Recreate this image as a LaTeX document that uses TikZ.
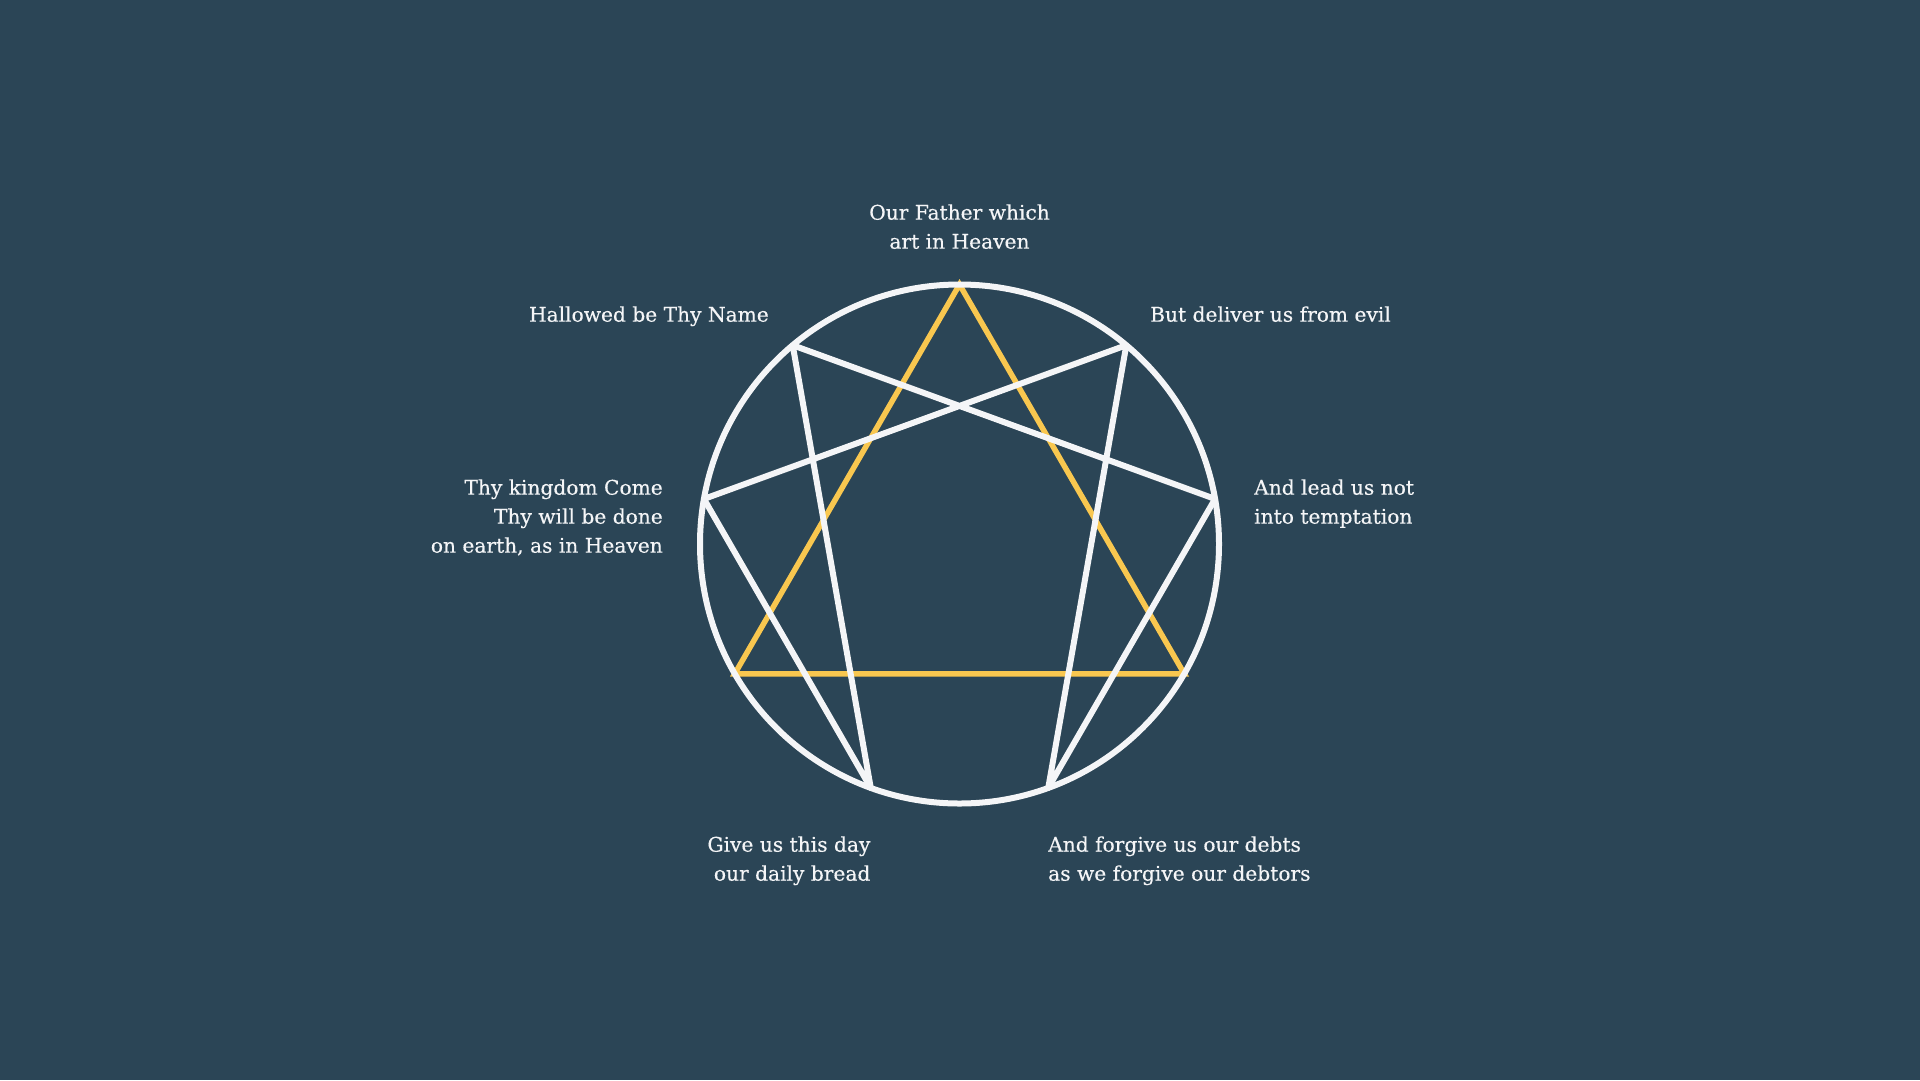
\documentclass[tikz,border=0pt]{standalone}
\usepackage{fontspec}
\setmainfont{DejaVu Serif}
\newfontfamily\lblfont[FakeBold=0.35]{DejaVu Serif}
\definecolor{bg}{HTML}{2B4556}
\definecolor{gold}{HTML}{F9C74F}
\definecolor{chalk}{HTML}{F4F5F7}
\begin{document}
\begin{tikzpicture}[x=1pt,y=-1pt,
  lbl/.style={text=chalk, inner sep=0pt, font=\lblfont\fontsize{20.2}{29}\selectfont},
  ring/.style={draw=chalk, line width=6pt},
  hexad/.style={draw=chalk, line width=6pt, line join=round},
  triad/.style={draw=gold, line width=5.5pt, line join=miter}]
\fill[bg] (0,0) rectangle (1920,1080);
\useasboundingbox (0,0) rectangle (1920,1080);
\coordinate (c) at (959.5,544);
\foreach \n/\a in {9/-90,1/-50,2/-10,3/30,4/70,5/110,6/150,7/-170,8/-130}
  \coordinate (p\n) at ([shift={(959.5,544)}]\a:259.5);
\draw[triad] (p9) -- (p3) -- (p6) -- cycle;
\draw[hexad] (p1) -- (p4) -- (p2) -- (p8) -- (p5) -- (p7) -- cycle;
\draw[ring] (c) circle[radius=259.5];
% labels: north anchor = first baseline - 20.3
\node[lbl, anchor=north, align=center] (t9) at (959.5,199.2) {\strut Our Father which\\\strut art in Heaven};
\node[lbl, anchor=north east, align=right] (t8) at (769,301.2) {\strut Hallowed be Thy Name};
\node[lbl, anchor=north west, align=left] (t1) at (1150,301.2) {\strut But deliver us from evil};
\node[lbl, anchor=north east, align=right] (t7) at (663,474.2) {\strut Thy kingdom Come\\\strut Thy will be done\\\strut on earth, as in Heaven};
\node[lbl, anchor=north west, align=left] (t2) at (1254,474.2) {\strut And lead us not\\\strut into temptation};
\node[lbl, anchor=north east, align=right] (t5) at (870.6,831.2) {\strut Give us this day\\\strut our daily bread};
\node[lbl, anchor=north west, align=left] (t4) at (1048,831.2) {\strut And forgive us our debts\\\strut as we forgive our debtors};
\end{tikzpicture}
\end{document}
